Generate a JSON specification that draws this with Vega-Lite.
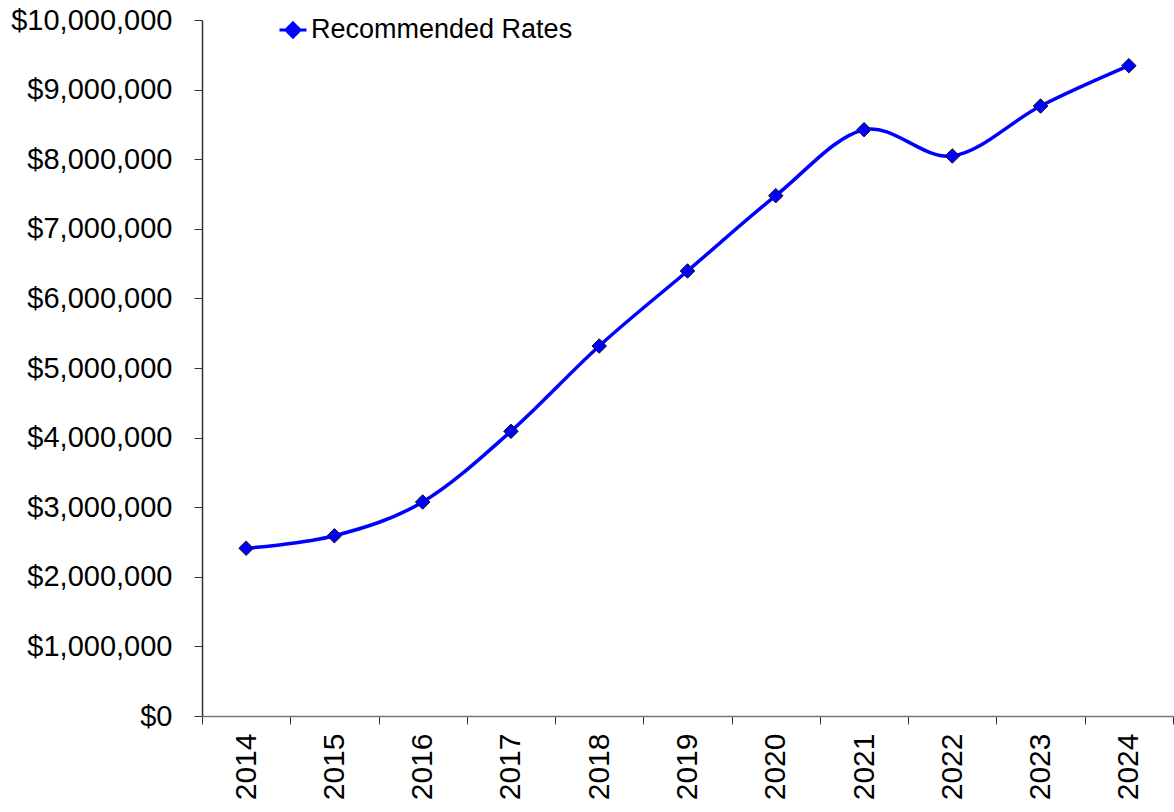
{
  "$schema": "https://vega.github.io/schema/vega-lite/v6.json",
  "width": 971,
  "height": 696,
  "autosize": {"type": "none"},
  "padding": {"left": 202, "top": 20, "right": 1, "bottom": 96},
  "background": "white",
  "config": {
    "view": {"stroke": null},
    "font": "Arial, Liberation Sans, sans-serif",
    "axis": {"grid": false, "labelColor": "black", "labelFont": "Arial, Liberation Sans, sans-serif"}
  },
  "data": {
    "values": [
      {"year": 2014, "rate": 2410000, "series": "Recommended Rates"},
      {"year": 2015, "rate": 2590000, "series": "Recommended Rates"},
      {"year": 2016, "rate": 3075000, "series": "Recommended Rates"},
      {"year": 2017, "rate": 4090000, "series": "Recommended Rates"},
      {"year": 2018, "rate": 5316000, "series": "Recommended Rates"},
      {"year": 2019, "rate": 6394000, "series": "Recommended Rates"},
      {"year": 2020, "rate": 7476000, "series": "Recommended Rates"},
      {"year": 2021, "rate": 8424000, "series": "Recommended Rates"},
      {"year": 2022, "rate": 8046000, "series": "Recommended Rates"},
      {"year": 2023, "rate": 8764000, "series": "Recommended Rates"},
      {"year": 2024, "rate": 9344000, "series": "Recommended Rates"}
    ]
  },
  "layer": [
    {
      "mark": {"type": "line", "interpolate": "cardinal", "tension": 0, "strokeWidth": 3.5},
      "encoding": {
        "x": {
          "field": "year",
          "type": "quantitative",
          "scale": {"domain": [2013.5, 2024.5], "nice": false, "zero": false},
          "axis": {
            "orient": "bottom",
            "title": null,
            "values": [2013.5, 2014.5, 2015.5, 2016.5, 2017.5, 2018.5, 2019.5, 2020.5, 2021.5, 2022.5, 2023.5, 2024.5],
            "labels": false,
            "tickSize": 8,
            "tickColor": "#333333",
            "domainColor": "#777777",
            "domainWidth": 1.5
          }
        },
        "y": {
          "field": "rate",
          "type": "quantitative",
          "scale": {"domain": [0, 10000000], "nice": false},
          "axis": {
            "title": null,
            "values": [0, 1000000, 2000000, 3000000, 4000000, 5000000, 6000000, 7000000, 8000000, 9000000, 10000000],
            "format": "$,.0f",
            "labelFontSize": 29,
            "labelPadding": 22,
            "labelLimit": 0,
            "tickSize": 8,
            "tickColor": "#333333",
            "domainColor": "#333333",
            "domainWidth": 1.5
          }
        },
        "color": {
          "field": "series",
          "type": "nominal",
          "scale": {"range": ["#0000FF"]},
          "legend": {
            "title": null,
            "orient": "none",
            "legendX": 76,
            "legendY": -5,
            "padding": 0,
            "symbolType": "M-1,0L1,0M0,-0.52L0.52,0L0,0.52L-0.52,0Z",
            "symbolSize": 729,
            "labelFontSize": 27,
            "labelOffset": 3,
            "labelLimit": 0,
            "labelColor": "black",
            "labelFont": "Arial, Liberation Sans, sans-serif",
            "encode": {
              "symbols": {
                "update": {
                  "fill": {"value": "#0000FF"},
                  "stroke": {"value": "#0000FF"},
                  "strokeWidth": {"value": 3},
                  "opacity": {"value": 1}
                }
              }
            }
          }
        }
      }
    },
    {
      "mark": {"type": "point", "shape": "diamond", "filled": true, "fill": "#0000FF", "stroke": "#111111", "strokeWidth": 1, "size": 210, "opacity": 1},
      "encoding": {
        "x": {
          "field": "year",
          "type": "quantitative",
          "axis": {
            "orient": "bottom",
            "title": null,
            "values": [2014, 2015, 2016, 2017, 2018, 2019, 2020, 2021, 2022, 2023, 2024],
            "format": "d",
            "ticks": false,
            "tickSize": 0,
            "domain": false,
            "labelAngle": 270,
            "labelAlign": "right",
            "labelBaseline": "middle",
            "labelFontSize": 30,
            "labelPadding": 17,
            "labelLimit": 0
          }
        },
        "y": {"field": "rate", "type": "quantitative"}
      }
    }
  ],
  "resolve": {"axis": {"x": "independent"}}
}
